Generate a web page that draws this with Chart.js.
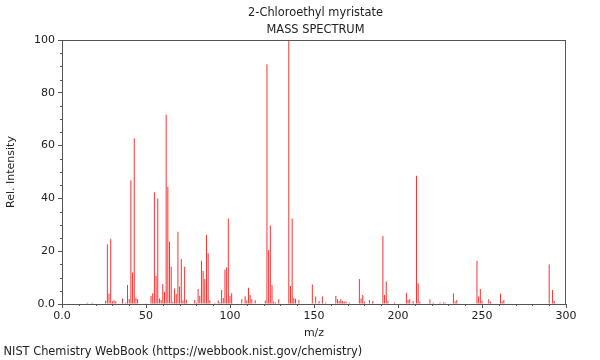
<!DOCTYPE html>
<html>
<head>
<meta charset="utf-8">
<script src="https://cdn.jsdelivr.net/npm/chart.js@4"></script>
<style>
	html, body { margin: 0; padding: 0; background: #fff; }
	#wrap { width: 600px; height: 360px; }
</style>
</head>
<body>
<div id="wrap"><canvas id="chart" width="600" height="360"></canvas></div>
<script>
const titleLines = ['2-Chloroethyl myristate', 'MASS SPECTRUM'];
const footerText = 'NIST Chemistry WebBook (https://webbook.nist.gov/chemistry)';

const mz = [15, 18, 26, 27, 28, 29, 30, 31, 32, 36, 38, 39, 40, 41, 42, 43, 44, 45, 50, 53,
	54, 55, 56, 57, 58, 59, 60, 61, 62, 63, 64, 65, 66, 67, 68, 69, 70, 71, 72, 73,
	74, 79, 80, 81, 82, 83, 84, 85, 86, 87, 88, 91, 93, 94, 95, 96, 97, 98, 99, 100,
	101, 107, 109, 110, 111, 112, 113, 115, 121, 122, 123, 124, 125, 126, 127, 129, 135, 136, 137, 138,
	139, 141, 149, 151, 153, 155, 157, 163, 164, 165, 166, 167, 168, 169, 171, 177, 178, 179, 180, 183,
	185, 191, 192, 193, 194, 198, 205, 206, 207, 209, 211, 212, 213, 219, 221, 225, 227, 228, 233, 234,
	235, 247, 248, 249, 250, 254, 255, 261, 262, 263, 290, 292, 293];

const intensity = [0.5, 0.5, 1.2, 22.6, 4, 24.6, 1, 1.4, 1, 2.1, 0.6, 7.2, 1.9, 46.9, 11.9, 62.8, 2.5, 1.9, 0.3, 3,
	4.1, 42.3, 10.6, 40, 2.1, 1.5, 7.6, 4.6, 71.7, 44.4, 23.6, 14.1, 0.8, 5.9, 3.8, 27.4, 6.6, 17, 1.3, 14.1,
	1.6, 1.5, 0.5, 5.7, 3.1, 16.4, 12.5, 9.5, 26.1, 19.2, 1.4, 0.5, 1.3, 0.6, 5.3, 2.3, 13, 13.8, 32.4, 3,
	4.1, 1.8, 2.9, 1.3, 6.2, 3.4, 1.8, 1.4, 1.3, 90.8, 20.5, 29.7, 7.2, 0.9, 0.6, 1.8, 100, 6.8, 32.4, 2.3,
	2, 1.5, 7.4, 2.8, 1.1, 2.8, 0.6, 3, 1.8, 1.1, 1.9, 1.1, 0.9, 0.9, 0.6, 9.5, 2.1, 3.4, 0.9, 1.5,
	1.1, 25.8, 3.4, 8.5, 1.1, 0.6, 4.3, 1.5, 1.8, 1.1, 48.6, 7.8, 0.9, 1.8, 0.6, 0.6, 0.6, 0.6, 4, 0.9,
	1.5, 16.4, 2.8, 5.7, 1.3, 1.8, 0.9, 3.9, 0.9, 1.5, 15, 5.3, 1.1];

const xTicks = [0, 50, 100, 150, 200, 250, 300];
const yTicks = [0, 20, 40, 60, 80, 100];

const axisColor = '#555';
const textColor = '#222';
const font = { family: 'DejaVu Sans', size: 11 };

const zeroLabel = v => v === 0 ? '0.0' : String(v);

// frame, minor ticks, titles and footer
const decorPlugin = {
	id: 'decor',
	afterDraw(chart) {
		const { ctx, chartArea: a, scales } = chart;
		ctx.save();
		ctx.strokeStyle = axisColor;
		ctx.lineWidth = 1;
		ctx.strokeRect(a.left + 0.5, a.top + 0.5, a.right - a.left - 1, a.bottom - a.top);

		ctx.beginPath();
		for (let v = 0; v <= 100; v += 5) {
			if (v % 20 === 0) continue;
			const y = Math.round(scales.y.getPixelForValue(v)) + 0.5;
			ctx.moveTo(a.left - 2, y);
			ctx.lineTo(a.left, y);
		}
		for (let v = 0; v <= 300; v += 10) {
			if (v % 50 === 0) continue;
			const x = Math.round(scales.x.getPixelForValue(v)) + 0.5;
			ctx.moveTo(x, a.bottom);
			ctx.lineTo(x, a.bottom + 2);
		}
		ctx.stroke();

		ctx.fillStyle = textColor;
		ctx.font = '11.4px "DejaVu Sans"';
		ctx.textAlign = 'center';
		ctx.textBaseline = 'middle';
		const cx = (a.left + a.right) / 2 + 1.5;
		ctx.fillText(titleLines[0], cx, 13);
		ctx.fillText(titleLines[1], cx, 30);
		ctx.textAlign = 'left';
		ctx.fillText(footerText, 3.5, 352);
		ctx.restore();
	}
};

const config = {
	type: 'bar',
	data: {
		datasets: [{
			data: mz.map((m, i) => ({ x: m, y: intensity[i] })),
			backgroundColor: 'rgb(245, 50, 50)',
			borderWidth: 0,
			barThickness: 1,
			inflateAmount: 0,
			grouped: false,
		}]
	},
	options: {
		responsive: false,
		animation: false,
		layout: { padding: { top: 40, right: 34, bottom: 20, left: 0 } },
		plugins: {
			legend: { display: false },
			tooltip: { enabled: false },
			title: { display: false }
		},
		scales: {
			x: {
				type: 'linear',
				min: 0,
				max: 300,
				offset: false,
				afterBuildTicks: s => { s.ticks = xTicks.map(v => ({ value: v })); },
				afterFit: s => { s.height = 36; },
				ticks: { color: textColor, font, padding: 2, maxRotation: 0, callback: zeroLabel },
				grid: { offset: false, drawOnChartArea: false, tickLength: 4, color: axisColor },
				border: { color: axisColor },
				title: { display: true, text: 'm/z', color: textColor, font, padding: 0 }
			},
			y: {
				min: 0,
				max: 100,
				afterBuildTicks: s => { s.ticks = yTicks.map(v => ({ value: v })); },
				afterFit: s => { s.width = 62; },
				ticks: { color: textColor, font, padding: 3, callback: zeroLabel },
				grid: { drawOnChartArea: false, tickLength: 4, color: axisColor },
				border: { color: axisColor },
				title: { display: true, text: 'Rel. Intensity', color: textColor, font, padding: { top: 5, bottom: 0 } }
			}
		}
	},
	plugins: [decorPlugin]
};

new Chart(document.getElementById('chart').getContext('2d'), config);
</script>
</body>
</html>
